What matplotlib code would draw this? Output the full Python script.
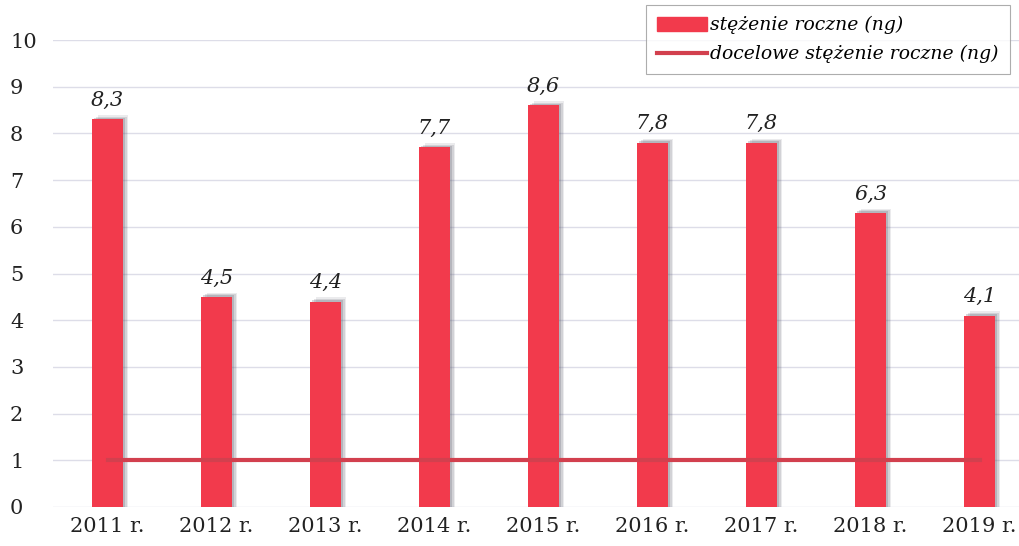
import matplotlib.pyplot as plt
from matplotlib.patches import Patch
from matplotlib.lines import Line2D

years = ["2011 r.", "2012 r.", "2013 r.", "2014 r.", "2015 r.",
         "2016 r.", "2017 r.", "2018 r.", "2019 r."]
values = [8.3, 4.5, 4.4, 7.7, 8.6, 7.8, 7.8, 6.3, 4.1]
target = [1, 1, 1, 1, 1, 1, 1, 1, 1]

bar_color = "#f23a4c"
line_color = "#d2404e"
serif = ["DejaVu Serif"]

fig = plt.figure(figsize=(10.19, 5.46), dpi=100)
ax = fig.add_axes([53 / 1019, 1 - 507 / 546, 981 / 1019, 467 / 546])

x = list(range(len(years)))

# soft shadow behind bars (several faint layers)
for dx, dy, a in [(0.02, 0.03, 0.25), (0.035, 0.06, 0.18), (0.05, 0.09, 0.12)]:
    ax.bar([i + dx for i in x], [v + dy for v in values], width=0.28,
           color="#606070", alpha=a, zorder=2, lw=0)
ax.bar(x, values, width=0.28, color=bar_color, zorder=3, lw=0)
ax.plot(x, target, color=line_color, lw=3, zorder=4)

for i, v in zip(x, values):
    ax.text(i, v + 0.2, f"{v:.1f}".replace(".", ","), ha="center", va="bottom",
            fontsize=15, style="italic", family=serif, color="#222222")

ax.set_xlim(-0.5, len(years) - 0.5)
ax.set_ylim(0, 10)
ax.set_yticks(range(0, 11))
ax.set_xticks(x)
ax.set_xticklabels(years)
ax.grid(axis="y", color="#dddde8", lw=1, zorder=0)
for s in ax.spines.values():
    s.set_visible(False)
ax.tick_params(length=0, labelsize=15, pad=7, colors="#222222")
ax.tick_params(axis="y", pad=31)
for lab in ax.get_xticklabels() + ax.get_yticklabels():
    lab.set_family(serif)
for lab in ax.get_yticklabels():
    lab.set_horizontalalignment("left")

handles = [Patch(color=bar_color), Line2D([0], [0], color=line_color, lw=3)]
labels = ["stężenie roczne (ng)", "docelowe stężenie roczne (ng)"]
leg = fig.legend(handles, labels, loc="upper right", bbox_to_anchor=(1010 / 1019, 1 - 5 / 546),
                 borderaxespad=0,
                 prop={"family": serif, "style": "italic", "size": 13.5},
                 frameon=True, fancybox=False, edgecolor="#999999",
                 handlelength=2.7, handletextpad=0.15, borderpad=0.6, labelspacing=0.55)
leg.get_frame().set_linewidth(0.8)

fig.savefig("out.png", dpi=100)
